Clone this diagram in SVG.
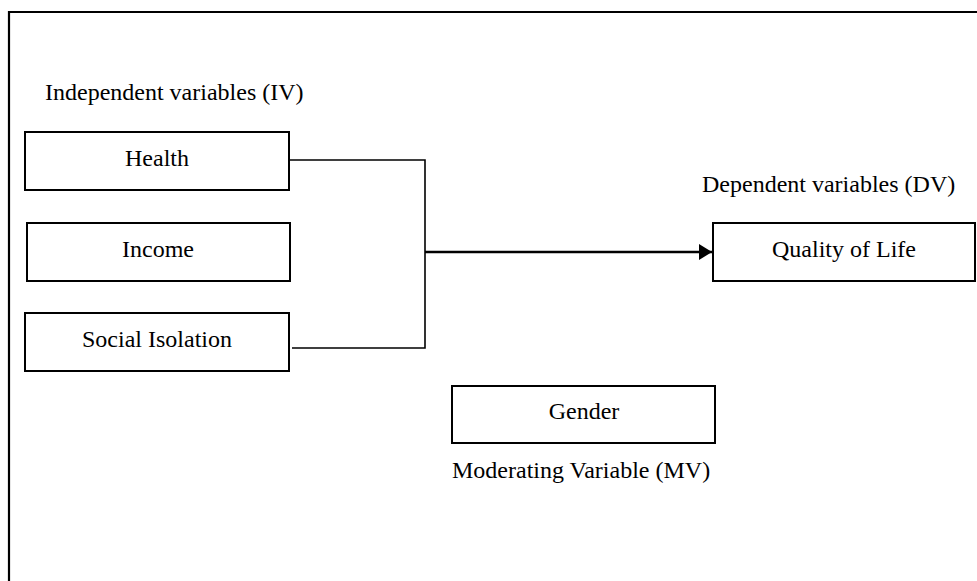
<svg xmlns="http://www.w3.org/2000/svg" width="977" height="581" viewBox="0 0 977 581">
  <style>
    .box { fill: #fff; stroke: #000; stroke-width: 2; }
    .t { font-family: "Liberation Serif", "Times New Roman", serif; font-size: 24px; fill: #000; }
    .c { text-anchor: middle; }
    .line { fill: none; stroke: #000; stroke-width: 1.6; }
  </style>
  <defs>
    <marker id="arrow" markerUnits="userSpaceOnUse" markerWidth="14" markerHeight="16" refX="13" refY="8" orient="auto">
      <path d="M0,0 L13,8 L0,16 Z" fill="#000"/>
    </marker>
  </defs>
  <rect width="977" height="581" fill="#fff"/>
  <g id="frame">
    <path d="M9,581 L9,12 L977,12" fill="none" stroke="#000" stroke-width="2.2"/>
  </g>
  <text class="t" x="45" y="100">Independent variables (IV)</text>
  <text class="t" x="702" y="192">Dependent variables (DV)</text>
  <text class="t" x="452" y="478">Moderating Variable (MV)</text>
  <g id="health">
    <rect class="box" x="25" y="132" width="264" height="58"/>
    <text class="t c" x="157" y="166">Health</text>
  </g>
  <g id="income">
    <rect class="box" x="27" y="223" width="263" height="58"/>
    <text class="t c" x="158" y="257">Income</text>
  </g>
  <g id="social">
    <rect class="box" x="25" y="313" width="264" height="58"/>
    <text class="t c" x="157" y="347">Social Isolation</text>
  </g>
  <g id="quality">
    <rect class="box" x="713" y="223" width="262" height="58"/>
    <text class="t c" x="844" y="257">Quality of Life</text>
  </g>
  <g id="gender">
    <rect class="box" x="452" y="386" width="263" height="57"/>
    <text class="t c" x="584" y="419">Gender</text>
  </g>
  <g id="connectors">
    <path class="line" d="M289,160 L425,160 L425,348 L292,348"/>
    <path d="M425,252 L712,252" fill="none" stroke="#000" stroke-width="2.6" marker-end="url(#arrow)"/>
  </g>
</svg>
